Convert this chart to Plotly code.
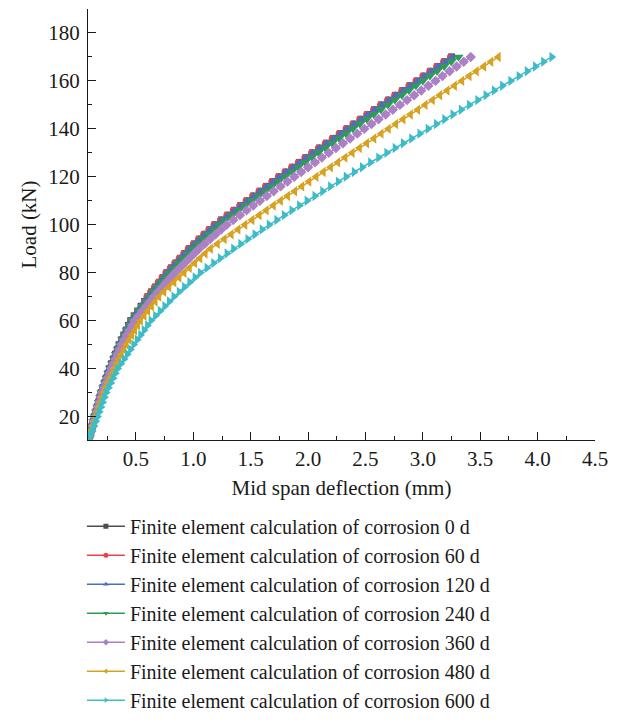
import plotly.graph_objects as go

load_kN = [10, 12, 14, 16, 18, 20, 22, 24, 26, 28, 30, 32, 34, 36, 38, 40, 42, 44, 46, 48,
           50, 52, 54, 56, 58, 60, 62, 64, 66, 68, 70, 72, 74, 76, 78, 80, 82, 84, 86, 88,
           90, 92, 94, 96, 98, 100, 102, 104, 106, 108, 110, 112, 114, 116, 118, 120, 122, 124, 126, 128,
           130, 132, 134, 136, 138, 140, 142, 144, 146, 148, 150, 152, 154, 156, 158, 160, 162, 164, 166, 168, 170]

defl_0d = [0.085, 0.096, 0.107, 0.118, 0.129, 0.14, 0.152, 0.163, 0.175, 0.186,
           0.198, 0.212, 0.227, 0.241, 0.256, 0.27, 0.287, 0.304, 0.321, 0.338,
           0.355, 0.375, 0.395, 0.415, 0.435, 0.455, 0.485, 0.515, 0.545, 0.575,
           0.605, 0.638, 0.671, 0.704, 0.737, 0.77, 0.809, 0.848, 0.887, 0.926,
           0.965, 1.01, 1.055, 1.10, 1.145, 1.19, 1.246, 1.302, 1.358, 1.414,
           1.47, 1.526, 1.582, 1.638, 1.694, 1.75, 1.808, 1.866, 1.924, 1.982,
           2.04, 2.10, 2.16, 2.22, 2.28, 2.34, 2.40, 2.46, 2.52, 2.58,
           2.64, 2.702, 2.764, 2.826, 2.888, 2.95, 3.01, 3.07, 3.13, 3.19, 3.25]

defl_60d = [0.085, 0.096, 0.107, 0.118, 0.129, 0.14, 0.152, 0.163, 0.175, 0.186,
            0.198, 0.212, 0.227, 0.241, 0.256, 0.27, 0.287, 0.304, 0.321, 0.338,
            0.355, 0.375, 0.395, 0.415, 0.435, 0.455, 0.485, 0.515, 0.545, 0.575,
            0.595, 0.628, 0.661, 0.694, 0.727, 0.76, 0.799, 0.838, 0.877, 0.916,
            0.955, 1.0, 1.045, 1.09, 1.135, 1.18, 1.236, 1.292, 1.348, 1.404,
            1.46, 1.516, 1.572, 1.628, 1.684, 1.74, 1.798, 1.856, 1.914, 1.972,
            2.03, 2.09, 2.15, 2.21, 2.27, 2.33, 2.39, 2.45, 2.51, 2.57,
            2.63, 2.692, 2.754, 2.816, 2.878, 2.94, 3.0, 3.06, 3.12, 3.18, 3.24]

defl_120d = [0.085, 0.096, 0.107, 0.118, 0.129, 0.14, 0.152, 0.163, 0.175, 0.186,
             0.198, 0.212, 0.227, 0.241, 0.256, 0.27, 0.287, 0.304, 0.321, 0.338,
             0.355, 0.375, 0.395, 0.415, 0.435, 0.455, 0.485, 0.515, 0.545, 0.575,
             0.605, 0.638, 0.671, 0.704, 0.737, 0.77, 0.809, 0.848, 0.887, 0.926,
             0.965, 1.01, 1.055, 1.10, 1.145, 1.19, 1.246, 1.302, 1.358, 1.414,
             1.47, 1.526, 1.582, 1.638, 1.694, 1.75, 1.808, 1.866, 1.924, 1.982,
             2.04, 2.10, 2.16, 2.22, 2.28, 2.34, 2.40, 2.46, 2.52, 2.58,
             2.64, 2.702, 2.764, 2.826, 2.888, 2.95, 3.01, 3.07, 3.13, 3.19, 3.25]

defl_240d = [0.085, 0.096, 0.107, 0.118, 0.129, 0.14, 0.152, 0.164, 0.176, 0.188,
             0.2, 0.215, 0.23, 0.245, 0.26, 0.275, 0.292, 0.309, 0.326, 0.343,
             0.36, 0.381, 0.402, 0.423, 0.444, 0.465, 0.496, 0.527, 0.558, 0.589,
             0.62, 0.654, 0.688, 0.722, 0.756, 0.79, 0.831, 0.872, 0.913, 0.954,
             0.995, 1.041, 1.087, 1.133, 1.179, 1.225, 1.282, 1.339, 1.396, 1.453,
             1.51, 1.568, 1.626, 1.684, 1.742, 1.80, 1.858, 1.916, 1.974, 2.032,
             2.09, 2.15, 2.21, 2.27, 2.33, 2.39, 2.451, 2.512, 2.573, 2.634,
             2.695, 2.756, 2.817, 2.878, 2.939, 3.0, 3.062, 3.124, 3.186, 3.248, 3.31]

defl_360d = [0.085, 0.097, 0.109, 0.121, 0.133, 0.145, 0.157, 0.169, 0.181, 0.193,
             0.205, 0.221, 0.237, 0.253, 0.269, 0.285, 0.303, 0.321, 0.339, 0.357,
             0.375, 0.398, 0.421, 0.444, 0.467, 0.49, 0.523, 0.556, 0.589, 0.622,
             0.655, 0.692, 0.729, 0.766, 0.803, 0.84, 0.882, 0.924, 0.966, 1.008,
             1.05, 1.098, 1.146, 1.194, 1.242, 1.29, 1.348, 1.406, 1.464, 1.522,
             1.58, 1.64, 1.70, 1.76, 1.82, 1.88, 1.94, 2.00, 2.06, 2.12,
             2.18, 2.242, 2.304, 2.366, 2.428, 2.49, 2.552, 2.614, 2.676, 2.738,
             2.80, 2.862, 2.924, 2.986, 3.048, 3.11, 3.171, 3.233, 3.294, 3.356, 3.417]

defl_480d = [0.085, 0.098, 0.111, 0.124, 0.137, 0.15, 0.164, 0.178, 0.192, 0.206,
             0.22, 0.238, 0.256, 0.274, 0.292, 0.31, 0.331, 0.352, 0.373, 0.394,
             0.415, 0.44, 0.465, 0.49, 0.515, 0.54, 0.572, 0.604, 0.636, 0.668,
             0.70, 0.744, 0.788, 0.832, 0.876, 0.92, 0.966, 1.012, 1.058, 1.104,
             1.15, 1.21, 1.27, 1.33, 1.39, 1.45, 1.512, 1.574, 1.636, 1.698,
             1.76, 1.822, 1.884, 1.946, 2.008, 2.07, 2.133, 2.196, 2.259, 2.322,
             2.385, 2.448, 2.511, 2.574, 2.637, 2.70, 2.764, 2.828, 2.892, 2.956,
             3.02, 3.084, 3.148, 3.212, 3.276, 3.34, 3.404, 3.467, 3.531, 3.594, 3.658]

defl_600d = [0.085, 0.101, 0.117, 0.133, 0.149, 0.165, 0.18, 0.195, 0.21, 0.225,
             0.24, 0.26, 0.28, 0.30, 0.32, 0.34, 0.368, 0.396, 0.424, 0.452,
             0.48, 0.51, 0.54, 0.57, 0.60, 0.63, 0.67, 0.71, 0.75, 0.79,
             0.83, 0.876, 0.922, 0.968, 1.014, 1.06, 1.118, 1.176, 1.234, 1.292,
             1.35, 1.412, 1.474, 1.536, 1.598, 1.66, 1.726, 1.792, 1.858, 1.924,
             1.99, 2.058, 2.126, 2.194, 2.262, 2.33, 2.401, 2.472, 2.543, 2.614,
             2.685, 2.757, 2.829, 2.901, 2.973, 3.045, 3.117, 3.189, 3.261, 3.333,
             3.405, 3.477, 3.549, 3.621, 3.693, 3.765, 3.837, 3.908, 3.98, 4.051, 4.123]

series_names = [
    "Finite element calculation of corrosion 0 d",
    "Finite element calculation of corrosion 60 d",
    "Finite element calculation of corrosion 120 d",
    "Finite element calculation of corrosion 240 d",
    "Finite element calculation of corrosion 360 d",
    "Finite element calculation of corrosion 480 d",
    "Finite element calculation of corrosion 600 d",
]
series_defl = [defl_0d, defl_60d, defl_120d, defl_240d, defl_360d, defl_480d, defl_600d]
colors = ["#4d4d4d", "#ec4246", "#4a6fc2", "#2a9e58", "#ab80c4", "#d6a21f", "#3dbcc8"]
symbols = ["square", "circle", "triangle-up", "triangle-down", "diamond", "triangle-left", "triangle-right"]
plot_sizes = [7, 7, 8, 9, 8, 9, 9]

FONT = "Liberation Serif"
FS = 21

fig = go.Figure()
for name, d, c, s, ms in zip(series_names, series_defl, colors, symbols, plot_sizes):
    fig.add_trace(go.Scatter(
        x=d, y=load_kN, mode="lines+markers", name=name, showlegend=False,
        line=dict(color=c, width=1.5),
        marker=dict(symbol=s, size=ms, color=c, line=dict(width=0)),
    ))

for name, c, s in zip(series_names, colors, symbols):
    fig.add_trace(go.Scatter(
        x=[None], y=[None], mode="lines+markers", name=name,
        line=dict(color=c, width=1.5),
        marker=dict(symbol=s, size=5, color=c, line=dict(width=0)),
    ))

axis_common = dict(
    showline=True, linecolor="#1a1a1a", linewidth=1.3, showgrid=False, zeroline=False,
    ticks="inside", ticklen=8, tickwidth=1.3, tickcolor="#1a1a1a",
    tickfont=dict(family=FONT, size=FS, color="#1a1a1a"),
    mirror=False, automargin=False,
)

fig.update_layout(
    width=619, height=728,
    margin=dict(l=88, r=24, t=9, b=287),
    paper_bgcolor="white", plot_bgcolor="white",
    font=dict(family=FONT, size=FS, color="#1a1a1a"),
    xaxis=dict(
        range=[0.082, 4.5], tick0=0.5, dtick=0.5, tickformat=".1f",
        ticklabelstandoff=0,
        minor=dict(dtick=0.25, tick0=0, ticks="inside", ticklen=4, tickwidth=1.3, tickcolor="#1a1a1a"),
        title=dict(text="Mid span deflection (mm)", font=dict(family=FONT, size=FS), standoff=9),
        **axis_common,
    ),
    yaxis=dict(
        range=[10.2, 190], tick0=0, dtick=20,
        ticklabelstandoff=3,
        minor=dict(dtick=10, tick0=0, ticks="inside", ticklen=4, tickwidth=1.3, tickcolor="#1a1a1a"),
        title=dict(text="Load (kN)", font=dict(family=FONT, size=FS), standoff=5),
        **axis_common,
    ),
    legend=dict(
        x=-0.012, xanchor="left", y=-0.152, yanchor="top",
        font=dict(family=FONT, size=20, color="#1a1a1a"),
        tracegroupgap=0, itemwidth=38, bgcolor="rgba(0,0,0,0)",
    ),
)

fig.write_html("out.html")
